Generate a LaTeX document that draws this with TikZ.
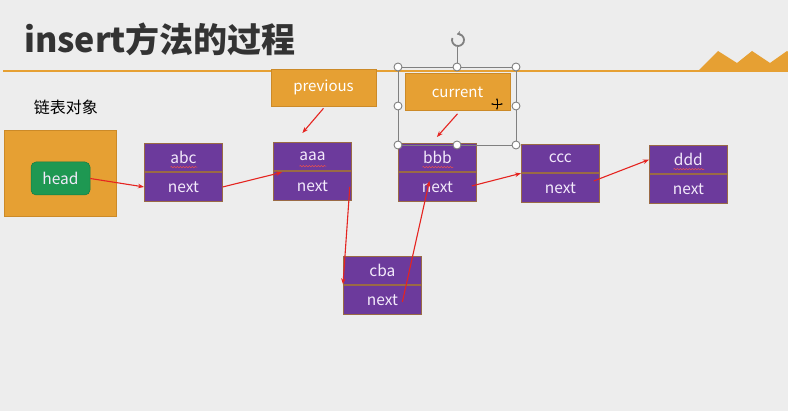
\documentclass[tikz,border=0pt]{standalone}
\usepackage{fontspec}
\setmainfont{Noto Sans CJK SC}
\usetikzlibrary{arrows.meta,calc,decorations.pathmorphing}
\definecolor{bg}{HTML}{EDEDED}
\definecolor{orC}{HTML}{E6A033}
\definecolor{orD}{HTML}{CC8A28}
\definecolor{puC}{HTML}{6C3A9C}
\definecolor{puD}{HTML}{9A6A45}
\definecolor{grC}{HTML}{1E9852}
\definecolor{txL}{HTML}{F3EAFB}
\definecolor{ttl}{HTML}{333333}
\definecolor{arr}{HTML}{E52420}
\definecolor{hdl}{HTML}{808080}
\tikzset{
  cell/.style={draw=puD, line width=0.8pt, fill=puC, text=txL, font=\fontsize{15.5}{15.5}\selectfont,
    minimum width=78pt, minimum height=28.5pt, inner sep=0pt, anchor=north west},
  ptr/.style={draw=orD, line width=0.6pt, fill=orC, text=white, font=\fontsize{15}{15}\selectfont,
    minimum width=105pt, minimum height=37pt, inner sep=0pt},
  link/.style={draw=arr, line width=1.1pt, -{Stealth[length=6pt,width=4.5pt]}},
  handle/.style={circle, draw=hdl, fill=white, line width=0.9pt, minimum size=8pt, inner sep=0pt},
  squig/.style={draw=arr!80, line width=0.5pt, decorate, decoration={snake, amplitude=0.7pt, segment length=3pt}}
}
\begin{document}
\begin{tikzpicture}[x=1pt,y=-1pt]
\fill[bg] (0,0) rectangle (788,411);
\useasboundingbox (0,0) rectangle (788,411);
% title
\node[anchor=base west, inner sep=0pt, text=ttl, font=\fontsize{34}{34}\bfseries\selectfont] (title) at (24,53) {insert方法的过程};
\draw[orC, line width=2.5pt] (3,71) -- (788,71);
\fill[orC] (697,72) -- (718,51) -- (737,63) -- (752,51) -- (770,63) -- (787,51) -- (788,52) -- (788,72) -- cycle;
% list object
\node[anchor=center, inner sep=0pt, text=black, font=\fontsize{16}{16}\selectfont] (lbl) at (66,107) {链表对象};
\node[draw=orD, line width=0.8pt, fill=orC, minimum width=112pt, minimum height=86pt, inner sep=0pt] (obj) at (60,173) {};
\node[draw=grC!80!black, line width=0.5pt, fill=grC, rounded corners=5pt, text=txL, font=\fontsize{15.5}{15.5}\selectfont,
  minimum width=59pt, minimum height=33pt, inner sep=0pt] (head) at (60.5,178.5) {head};
% list nodes
\node[cell] (abcT) at (144,143) {abc};
\node[cell] (abcN) at (abcT.south west) {next};
\node[cell] (aaaT) at (273,142) {aaa};
\node[cell] (aaaN) at (aaaT.south west) {next};
\node[cell] (bbbT) at (398,143) {bbb};
\node[cell] (bbbN) at (bbbT.south west) {next};
\node[cell] (cccT) at (521,144) {ccc};
\node[cell] (cccN) at (cccT.south west) {next};
\node[cell] (dddT) at (649,145) {ddd};
\node[cell] (dddN) at (dddT.south west) {next};
\node[cell] (cbaT) at (343,256) {cba};
\node[cell] (cbaN) at (cbaT.south west) {next};
% spell-check underlines
\draw[squig] ($(abcT.center)+(-13,9.5)$) -- ($(abcT.center)+(14,9.5)$);
\draw[squig] ($(aaaT.center)+(-13,9.5)$) -- ($(aaaT.center)+(14,9.5)$);
\draw[squig] ($(bbbT.center)+(-15,9.5)$) -- ($(bbbT.center)+(16,9.5)$);
\draw[squig] ($(dddT.center)+(-15,9.5)$) -- ($(dddT.center)+(16,9.5)$);
% pointers
\node[ptr] (prev) at (323.5,87.5) {previous};
\node[ptr] (cur) at (457.5,92) {current};
% selection frame
\draw[hdl, line width=0.9pt] (398,67) rectangle (516,145);
\coordinate (rot) at (458,40);
\draw[hdl, line width=0.9pt] (457,47) -- (457,67);
\draw[hdl, line width=1.8pt, -{Stealth[length=3.5pt,width=5pt]}] ($(rot)+(200:6)$) arc[start angle=200, end angle=-100, radius=6];
\foreach \p/\n in {{(398,67)}/h1,{(457,67)}/h2,{(516,67)}/h3,{(398,106)}/h4,{(516,106)}/h5,{(398,145)}/h6,{(457,145)}/h7,{(516,145)}/h8}
  \node[handle] (\n) at \p {};
% move cursor
\coordinate (mv) at (497,104);
\draw[black, line width=0.7pt, {Stealth[length=2.5pt]}-{Stealth[length=2.5pt]}] ($(mv)+(-6,0)$) -- ($(mv)+(6,0)$);
\draw[black, line width=0.7pt, {Stealth[length=2.5pt]}-{Stealth[length=2.5pt]}] ($(mv)+(0,-6)$) -- ($(mv)+(0,6)$);
% links
\draw[link] (head.east) -- (abcN.west);
\draw[link] (abcN.east) -- ($(aaaT.south west)+(9,1)$);
\draw[link] ($(prev.south)+(0,2)$) -- ($(aaaT.north)+(-10,-9)$);
\draw[link] ($(cur.south)+(0,3)$) -- ($(bbbT.north)+(-0.5,-6)$);
\draw[link] ($(aaaN.east)+(-2,1)$) -- ($(cbaT.south west)+(0,-1)$);
\draw[link] ($(cbaN.center)+(20,2)$) -- ($(bbbN.center)+(-8,-6)$);
\draw[link] ($(bbbN.east)+(-5,-1)$) -- ($(cccT.south west)+(0,0)$);
\draw[link] ($(cccN.east)+(-6,-7)$) -- (dddT.west);
\end{tikzpicture}
\end{document}
